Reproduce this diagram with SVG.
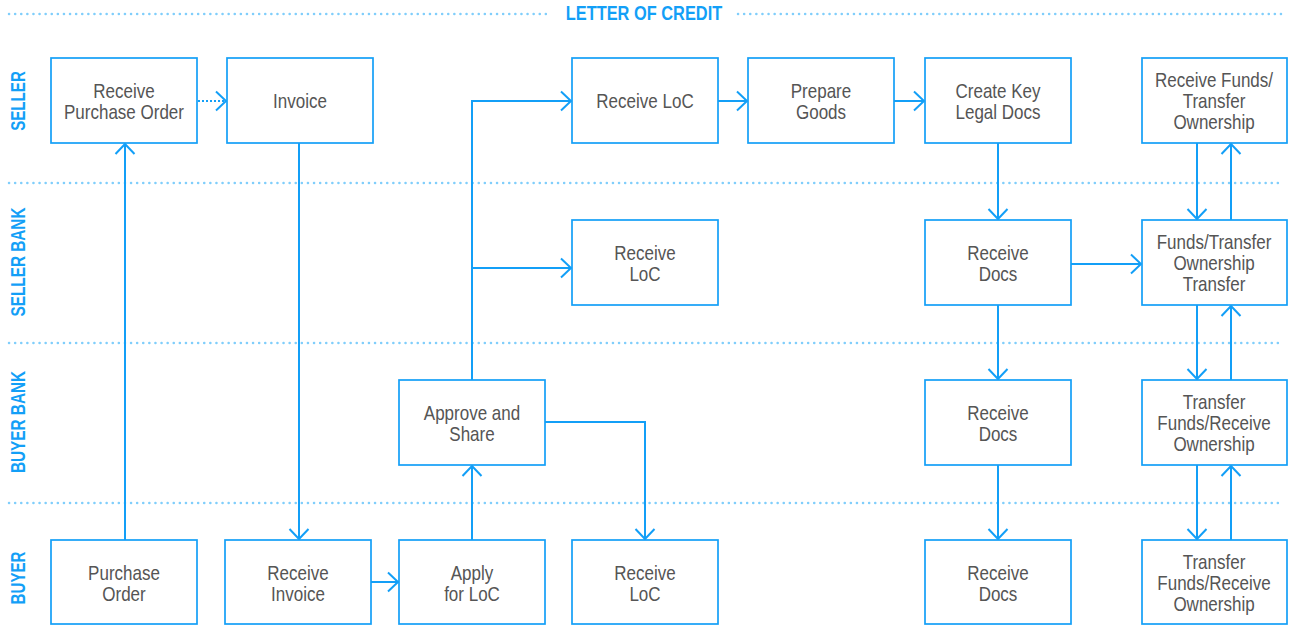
<svg xmlns="http://www.w3.org/2000/svg" width="1290" height="625" viewBox="0 0 1290 625">
<defs>
<style>
.box{fill:#fff;stroke:#139ff7;stroke-width:1.7}
.t{font-family:"Liberation Sans",Arial,sans-serif;font-size:21px;fill:#555;text-anchor:middle}
.lane{font-family:"Liberation Sans",Arial,sans-serif;font-size:21px;font-weight:bold;fill:#139ff7;text-anchor:middle}
.title{font-family:"Liberation Sans",Arial,sans-serif;font-size:21px;font-weight:bold;fill:#139ff7;text-anchor:middle}
.sep{stroke:#80cefb;stroke-width:2.5;stroke-dasharray:0.1 6;stroke-linecap:round;fill:none}
.c{stroke:#139ff7;stroke-width:2;fill:none;marker-end:url(#arr)}
.dot{stroke-dasharray:2 2}
</style>
<marker id="arr" markerUnits="userSpaceOnUse" markerWidth="24" markerHeight="24" viewBox="-12 -12 24 24" refX="0" refY="0" orient="auto">
<path d="M-10,-9.5 L0,0 L-10,9.5" fill="none" stroke="#139ff7" stroke-width="2"/>
</marker>
</defs>

<g id="title">
<line class="sep" x1="9" y1="14" x2="548" y2="14"/>
<line class="sep" x1="738" y1="14" x2="1282" y2="14"/>
<text class="title" transform="translate(644,20) scale(0.78,1)">LETTER OF CREDIT</text>
</g>

<g id="lanes">
<line class="sep" x1="9" y1="183" x2="1282" y2="183"/>
<line class="sep" x1="9" y1="343" x2="1282" y2="343"/>
<line class="sep" x1="9" y1="503" x2="1282" y2="503"/>
<text class="lane" transform="translate(25,101) rotate(-90) scale(0.72,1)">SELLER</text>
<text class="lane" transform="translate(25,262) rotate(-90) scale(0.73,1)">SELLER BANK</text>
<text class="lane" transform="translate(25,422) rotate(-90) scale(0.73,1)">BUYER BANK</text>
<text class="lane" transform="translate(25,578) rotate(-90) scale(0.72,1)">BUYER</text>
</g>

<g id="connectors">
<path class="c" d="M125,540 V144"/>
<path class="c dot" d="M198,101 H226"/>
<path class="c" d="M299,143 V539"/>
<path class="c" d="M371,582 H398"/>
<path class="c" d="M472,540 V466"/>
<path class="c" d="M472,380 V101 H571"/>
<path class="c" d="M472,268 H571"/>
<path class="c" d="M545,422 H645 V539"/>
<path class="c" d="M718,101 H747"/>
<path class="c" d="M894,101 H924"/>
<path class="c" d="M998,143 V219"/>
<path class="c" d="M998,305 V379"/>
<path class="c" d="M998,465 V539"/>
<path class="c" d="M1071,264 H1141"/>
<path class="c" d="M1197,143 V219"/>
<path class="c" d="M1231,220 V144"/>
<path class="c" d="M1197,305 V379"/>
<path class="c" d="M1231,380 V306"/>
<path class="c" d="M1197,465 V539"/>
<path class="c" d="M1231,540 V466"/>
</g>

<g id="n-receive-po"><rect class="box" x="51" y="58" width="146" height="85"/><text class="t" transform="translate(124,98) scale(0.81,1)">Receive</text><text class="t" transform="translate(124,119) scale(0.81,1)">Purchase Order</text></g>
<g id="n-invoice"><rect class="box" x="227" y="58" width="146" height="85"/><text class="t" transform="translate(300,108) scale(0.81,1)">Invoice</text></g>
<g id="n-seller-receive-loc"><rect class="box" x="572" y="58" width="146" height="85"/><text class="t" transform="translate(645,108) scale(0.81,1)">Receive LoC</text></g>
<g id="n-prepare-goods"><rect class="box" x="748" y="58" width="146" height="85"/><text class="t" transform="translate(821,98) scale(0.81,1)">Prepare</text><text class="t" transform="translate(821,119) scale(0.81,1)">Goods</text></g>
<g id="n-create-docs"><rect class="box" x="925" y="58" width="146" height="85"/><text class="t" transform="translate(998,98) scale(0.81,1)">Create Key</text><text class="t" transform="translate(998,119) scale(0.81,1)">Legal Docs</text></g>
<g id="n-receive-funds"><rect class="box" x="1142" y="58" width="145" height="85"/><text class="t" transform="translate(1214,87) scale(0.81,1)">Receive Funds/</text><text class="t" transform="translate(1214,108) scale(0.81,1)">Transfer</text><text class="t" transform="translate(1214,129) scale(0.81,1)">Ownership</text></g>

<g id="n-sb-receive-loc"><rect class="box" x="572" y="220" width="146" height="85"/><text class="t" transform="translate(645,260) scale(0.81,1)">Receive</text><text class="t" transform="translate(645,281) scale(0.81,1)">LoC</text></g>
<g id="n-sb-receive-docs"><rect class="box" x="925" y="220" width="146" height="85"/><text class="t" transform="translate(998,260) scale(0.81,1)">Receive</text><text class="t" transform="translate(998,281) scale(0.81,1)">Docs</text></g>
<g id="n-sb-funds"><rect class="box" x="1142" y="220" width="145" height="85"/><text class="t" transform="translate(1214,249) scale(0.81,1)">Funds/Transfer</text><text class="t" transform="translate(1214,270) scale(0.81,1)">Ownership</text><text class="t" transform="translate(1214,291) scale(0.81,1)">Transfer</text></g>

<g id="n-approve"><rect class="box" x="399" y="380" width="146" height="85"/><text class="t" transform="translate(472,420) scale(0.81,1)">Approve and</text><text class="t" transform="translate(472,441) scale(0.81,1)">Share</text></g>
<g id="n-bb-receive-docs"><rect class="box" x="925" y="380" width="146" height="85"/><text class="t" transform="translate(998,420) scale(0.81,1)">Receive</text><text class="t" transform="translate(998,441) scale(0.81,1)">Docs</text></g>
<g id="n-bb-transfer"><rect class="box" x="1142" y="380" width="145" height="85"/><text class="t" transform="translate(1214,409) scale(0.81,1)">Transfer</text><text class="t" transform="translate(1214,430) scale(0.81,1)">Funds/Receive</text><text class="t" transform="translate(1214,451) scale(0.81,1)">Ownership</text></g>

<g id="n-purchase-order"><rect class="box" x="51" y="540" width="146" height="84"/><text class="t" transform="translate(124,580) scale(0.81,1)">Purchase</text><text class="t" transform="translate(124,601) scale(0.81,1)">Order</text></g>
<g id="n-receive-invoice"><rect class="box" x="225" y="540" width="146" height="84"/><text class="t" transform="translate(298,580) scale(0.81,1)">Receive</text><text class="t" transform="translate(298,601) scale(0.81,1)">Invoice</text></g>
<g id="n-apply-loc"><rect class="box" x="399" y="540" width="146" height="84"/><text class="t" transform="translate(472,580) scale(0.81,1)">Apply</text><text class="t" transform="translate(472,601) scale(0.81,1)">for LoC</text></g>
<g id="n-buyer-receive-loc"><rect class="box" x="572" y="540" width="146" height="84"/><text class="t" transform="translate(645,580) scale(0.81,1)">Receive</text><text class="t" transform="translate(645,601) scale(0.81,1)">LoC</text></g>
<g id="n-buyer-receive-docs"><rect class="box" x="925" y="540" width="146" height="84"/><text class="t" transform="translate(998,580) scale(0.81,1)">Receive</text><text class="t" transform="translate(998,601) scale(0.81,1)">Docs</text></g>
<g id="n-buyer-transfer"><rect class="box" x="1142" y="540" width="145" height="84"/><text class="t" transform="translate(1214,569) scale(0.81,1)">Transfer</text><text class="t" transform="translate(1214,590) scale(0.81,1)">Funds/Receive</text><text class="t" transform="translate(1214,611) scale(0.81,1)">Ownership</text></g>
</svg>
